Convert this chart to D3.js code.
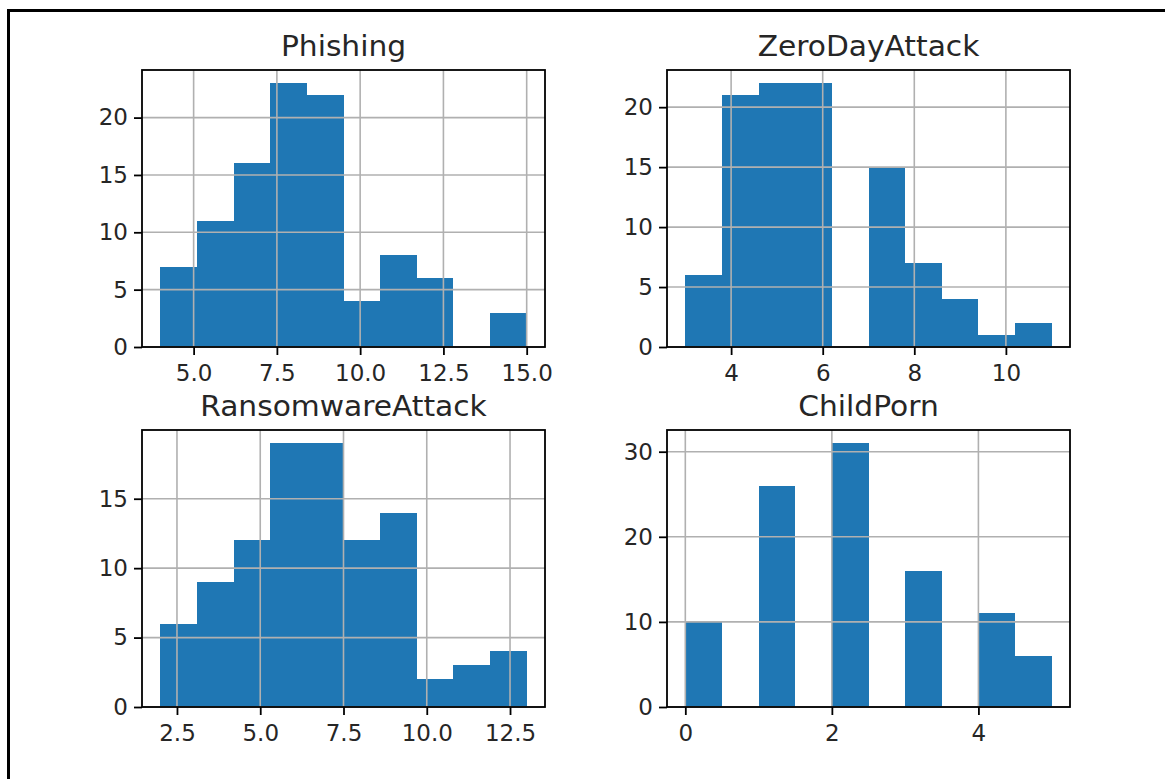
<!DOCTYPE html>
<html>
<head>
<meta charset="utf-8">
<script src="https://cdn.jsdelivr.net/npm/d3@7"></script>
<style>
  html, body { margin: 0; padding: 0; background: #fff; }
  svg { display: block; }
  text { font-family: "DejaVu Sans", sans-serif; fill: #262626; }
</style>
</head>
<body>
<svg id="chart" width="1165" height="779"></svg>
<script>
// Histogram counts per column (10 equal-width bins between the min and max value)
const phishingCounts   = [7, 11, 16, 23, 22, 4, 8, 6, 0, 3];
const phishingRange    = [4, 15];
const phishingXTicks   = [5.0, 7.5, 10.0, 12.5, 15.0];
const phishingYTicks   = [0, 5, 10, 15, 20];

const zeroDayCounts    = [6, 21, 22, 22, 0, 15, 7, 4, 1, 2];
const zeroDayRange     = [3, 11];
const zeroDayXTicks    = [4, 6, 8, 10];
const zeroDayYTicks    = [0, 5, 10, 15, 20];

const ransomwareCounts = [6, 9, 12, 19, 19, 12, 14, 2, 3, 4];
const ransomwareRange  = [2, 13];
const ransomwareXTicks = [2.5, 5.0, 7.5, 10.0, 12.5];
const ransomwareYTicks = [0, 5, 10, 15];

const childPornCounts  = [10, 0, 26, 0, 31, 0, 16, 0, 11, 6];
const childPornRange   = [0, 5];
const childPornXTicks  = [0, 2, 4];
const childPornYTicks  = [0, 10, 20, 30];

const titles = ["Phishing", "ZeroDayAttack", "RansomwareAttack", "ChildPorn"];

const panels = [
  { title: titles[0], counts: phishingCounts,   range: phishingRange,   xTicks: phishingXTicks,   yTicks: phishingYTicks,   fmt: d3.format(".1f"), col: 0, row: 0 },
  { title: titles[1], counts: zeroDayCounts,    range: zeroDayRange,    xTicks: zeroDayXTicks,    yTicks: zeroDayYTicks,    fmt: d3.format("d"),   col: 1, row: 0 },
  { title: titles[2], counts: ransomwareCounts, range: ransomwareRange, xTicks: ransomwareXTicks, yTicks: ransomwareYTicks, fmt: d3.format(".1f"), col: 0, row: 1 },
  { title: titles[3], counts: childPornCounts,  range: childPornRange,  xTicks: childPornXTicks,  yTicks: childPornYTicks,  fmt: d3.format("d"),   col: 1, row: 1 }
];

const svg = d3.select("#chart");

// frame around the figure (left and top edges)
svg.append("line").attr("x1", 8.5).attr("x2", 8.5).attr("y1", 9).attr("y2", 779)
  .attr("stroke", "#000").attr("stroke-width", 3);
svg.append("line").attr("x1", 7).attr("x2", 1165).attr("y1", 10.5).attr("y2", 10.5)
  .attr("stroke", "#000").attr("stroke-width", 3);

const colLeft = [142, 667];
const rowTop = [70, 430];
const axW = 403, axH = 277;
const barColor = "#1f77b4";
const gridColor = "#b0b0b0";

panels.forEach(p => {
  const x0 = colLeft[p.col], y0 = rowTop[p.row];
  const g = svg.append("g").attr("transform", `translate(${x0},${y0})`);

  const [lo, hi] = p.range;
  const span = hi - lo;
  const nb = p.counts.length;
  const binW = span / nb;
  const bins = p.counts.map((c, i) => ({ x0: lo + i * binW, x1: lo + (i + 1) * binW, n: c }));

  const x = d3.scaleLinear().domain([lo - 0.05 * span, hi + 0.05 * span]).range([0, axW]);
  const y = d3.scaleLinear().domain([0, d3.max(p.counts) * 1.05]).range([axH, 0]);

  // bars (crisp edges so neighbouring bins join without seams)
  g.selectAll("rect.bar").data(bins.filter(b => b.n > 0)).join("rect")
    .attr("class", "bar")
    .attr("x", d => x(d.x0))
    .attr("width", d => x(d.x1) - x(d.x0))
    .attr("y", d => y(d.n))
    .attr("height", d => y(0) - y(d.n))
    .attr("fill", barColor)
    .attr("shape-rendering", "crispEdges");

  // grid lines on top of bars
  g.selectAll("line.gx").data(p.xTicks).join("line")
    .attr("class", "gx")
    .attr("x1", d => x(d)).attr("x2", d => x(d))
    .attr("y1", 0).attr("y2", axH)
    .attr("stroke", gridColor).attr("stroke-width", 1.6);
  g.selectAll("line.gy").data(p.yTicks).join("line")
    .attr("class", "gy")
    .attr("x1", 0).attr("x2", axW)
    .attr("y1", d => y(d)).attr("y2", d => y(d))
    .attr("stroke", gridColor).attr("stroke-width", 1.6);

  // axes
  const xAxis = g.append("g").attr("transform", `translate(0,${axH})`)
    .call(d3.axisBottom(x).tickValues(p.xTicks).tickFormat(p.fmt).tickSize(8).tickPadding(10).tickSizeOuter(0));
  const yAxis = g.append("g")
    .call(d3.axisLeft(y).tickValues(p.yTicks).tickFormat(d3.format("d")).tickSize(8).tickPadding(6).tickSizeOuter(0));
  [xAxis, yAxis].forEach(a => {
    a.select(".domain").remove();
    a.selectAll(".tick line").attr("stroke", "#000").attr("stroke-width", 1.8);
    a.selectAll(".tick text").attr("font-size", 23).attr("fill", "#262626");
  });

  // axes frame
  g.append("rect").attr("x", 0).attr("y", 0).attr("width", axW).attr("height", axH)
    .attr("fill", "none").attr("stroke", "#000").attr("stroke-width", 1.8);

  // title, slightly widened
  g.append("text")
    .attr("transform", `translate(${axW / 2},-14) scale(1.08,1)`)
    .attr("text-anchor", "middle")
    .attr("font-size", 27.5)
    .text(p.title);
});
</script>
</body>
</html>
